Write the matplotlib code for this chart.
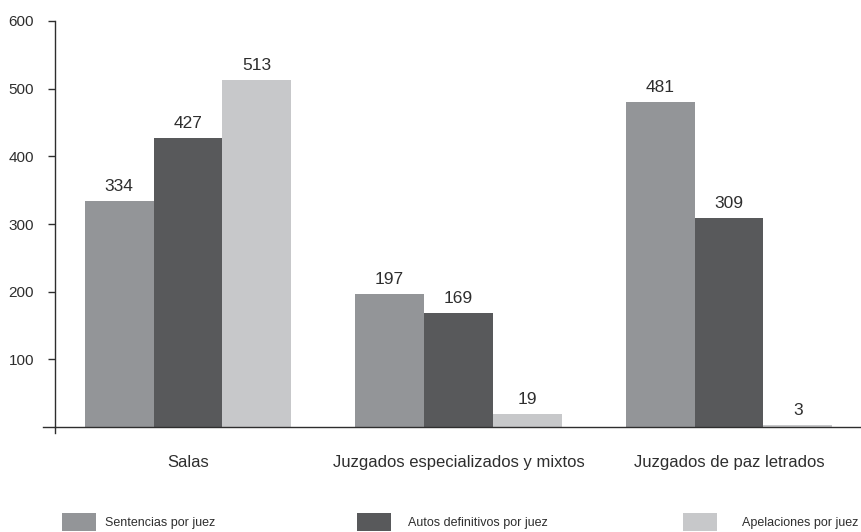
import numpy as np
import matplotlib.pyplot as plt
from matplotlib.patches import Rectangle

categorias = ['Salas', 'Juzgados especializados y mixtos', 'Juzgados de paz letrados']
series = ['Sentencias por juez', 'Autos definitivos por juez', 'Apelaciones por juez']
sentencias = [334, 197, 481]
autos = [427, 169, 309]
apelaciones = [513, 19, 3]
yticks = [100, 200, 300, 400, 500, 600]

colores = ['#939598', '#58595b', '#c7c8ca']
texto = '#2e2e2e'
plt.rcParams['font.family'] = ['Liberation Sans', 'DejaVu Sans']

W, H = 862, 532
fig = plt.figure(figsize=(W / 100, H / 100), dpi=100)
# axes box in pixels: x 43..862, y 21..427
ax = fig.add_axes([43 / W, (H - 427) / H, (862 - 43) / W, (427 - 21) / H])

x = np.arange(len(categorias))
w = 0.255
xlim = ((43 - 188) / 270.5, (862 - 188) / 270.5)
for i, vals in enumerate([sentencias, autos, apelaciones]):
    pos = x + (i - 1) * w
    ax.bar(pos, vals, width=w, color=colores[i], linewidth=0, zorder=2)
    for p, v in zip(pos, vals):
        ax.annotate(str(v), (p, v), xytext=(0, 5), textcoords='offset points',
                    ha='center', va='bottom', fontsize=12.5, color=texto)

ax.set_xlim(*xlim)
ax.set_ylim(0, 600)

for s in ['top', 'right']:
    ax.spines[s].set_visible(False)
yfrac = 12 / (862 - 43)
ax.spines['left'].set_position(('axes', yfrac))
ax.spines['left'].set_color(texto)
ax.spines['bottom'].set_color(texto)
ax.spines['left'].set_linewidth(1.0)
ax.spines['bottom'].set_linewidth(1.0)
# small stub of the y axis below the baseline
x0 = xlim[0] + yfrac * (xlim[1] - xlim[0])
ax.plot([x0, x0], [0, -9], color=texto, lw=1.0, clip_on=False)

ax.set_yticks(yticks)
ax.tick_params(axis='y', length=5, width=1, color=texto, pad=10,
               labelsize=11, labelcolor=texto)
ax.set_xticks(x)
ax.set_xticklabels(categorias)
ax.tick_params(axis='x', length=0, pad=20, labelsize=12, labelcolor=texto)

# legend spread along the bottom
leg_x = [62, 357, 683]
txt_x = [105, 408, 742]
for lx, tx, c, s in zip(leg_x, txt_x, colores, series):
    fig.patches.append(Rectangle((lx / W, (H - 531) / H), 34 / W, 18 / H,
                                 transform=fig.transFigure, color=c, lw=0))
    fig.text(tx / W, (H - 523) / H, s, ha='left', va='center', fontsize=9,
             color=texto)

fig.savefig('out.png', dpi=100)
